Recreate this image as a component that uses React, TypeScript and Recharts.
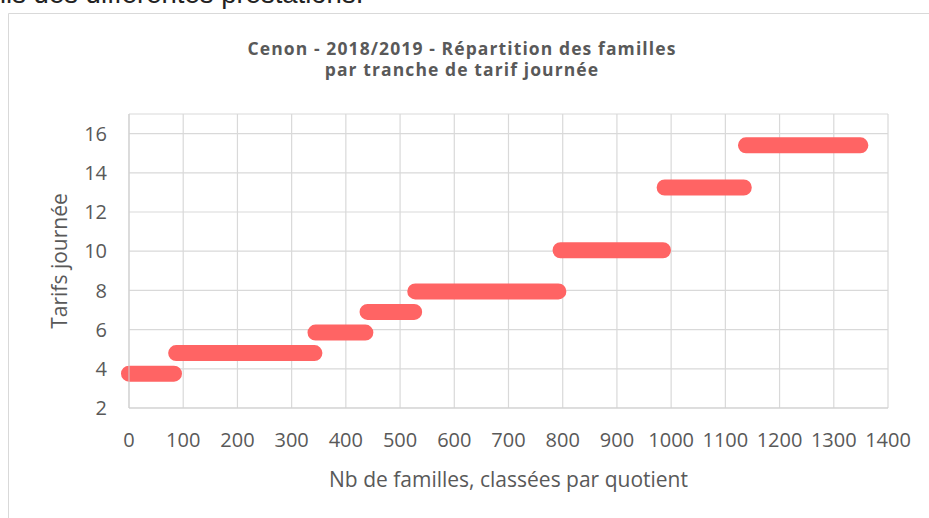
import { LineChart, Line, XAxis, YAxis, CartesianGrid, Label } from 'recharts';

// tranches de tarif : début / fin (rang de famille) et tarif journée
const trancheDebut = [0, 87, 344, 440, 528, 796, 988, 1138];
const trancheFin = [83, 342, 436, 526, 792, 985, 1134, 1349];
const tarifs = [3.75, 4.8, 5.85, 6.9, 7.95, 10.05, 13.25, 15.4];

const xTicks = [0, 100, 200, 300, 400, 500, 600, 700, 800, 900, 1000, 1100, 1200, 1300, 1400];
const yTicks = [2, 4, 6, 8, 10, 12, 14, 16];

// one point at each end of a tranche, then a null to break the line
const data = tarifs.flatMap((t, i) => [
  { x: trancheDebut[i], tarif: t },
  { x: trancheFin[i], tarif: t },
  { x: trancheFin[i] + 1, tarif: null },
]);

const GREY = '#595959';
const FRAME = '#d9d9d9';
const tickStyle = { fontFamily: 'Open Sans', fontSize: 20, fill: GREY };

export default function App() {
  return (
    <div style={{ position: 'fixed', left: 0, top: 0, width: 929, height: 518, overflow: 'hidden', background: '#fff' }}>
      <div
        style={{
          position: 'absolute', left: 0, top: -21, fontFamily: 'Liberation Sans', fontSize: 27.5,
          color: '#222', whiteSpace: 'nowrap', lineHeight: '30px',
        }}
      >
        ils des différentes prestations.
      </div>
      {/* chart frame: only the top and left edges are in view */}
      <svg width={929} height={518} style={{ position: 'absolute', left: 0, top: 0 }}>
        <path d="M8.5 518 V13.5 H929" fill="none" stroke={FRAME} strokeWidth={1} />
      </svg>
      <div
        style={{
          position: 'absolute', left: 9, width: 906, top: 38, textAlign: 'center',
          fontFamily: 'Open Sans', fontWeight: 700, fontSize: 17.5, lineHeight: '21px',
          letterSpacing: 1.1, color: GREY,
        }}
      >
        Cenon - 2018/2019 - Répartition des familles
        <br />
        par tranche de tarif journée
      </div>
      <div style={{ position: 'absolute', left: 0, top: 0 }}>
        <LineChart
          width={929}
          height={518}
          data={data}
          accessibilityLayer={false}
          margin={{ top: 114, right: 41, bottom: 10, left: 29 }}
        >
          <CartesianGrid stroke={FRAME} strokeWidth={1.2} />
          <XAxis
            type="number"
            dataKey="x"
            domain={[0, 1400]}
            ticks={xTicks}
            interval={0}
            height={100}
            tickLine={false}
            tickSize={0}
            tickMargin={25}
            stroke="#cfcfcf"
            tick={tickStyle}
          >
            <Label value="Nb de familles, classées par quotient" position="center" dy={22} style={{ ...tickStyle, fontSize: 21 }} />
          </XAxis>
          <YAxis
            type="number"
            domain={[2, 17]}
            ticks={yTicks}
            interval={0}
            width={100}
            tickLine={false}
            tickSize={0}
            tickMargin={22}
            stroke="#cfcfcf"
            tick={tickStyle}
          >
            <Label value="Tarifs journée" angle={-90} position="center" dx={-19} style={{ ...tickStyle, fontSize: 21 }} />
          </YAxis>
          <Line
            dataKey="tarif"
            stroke="#ff6464"
            strokeWidth={16}
            strokeLinecap="round"
            dot={false}
            activeDot={false}
            connectNulls={false}
            isAnimationActive={false}
          />
        </LineChart>
      </div>
    </div>
  );
}
